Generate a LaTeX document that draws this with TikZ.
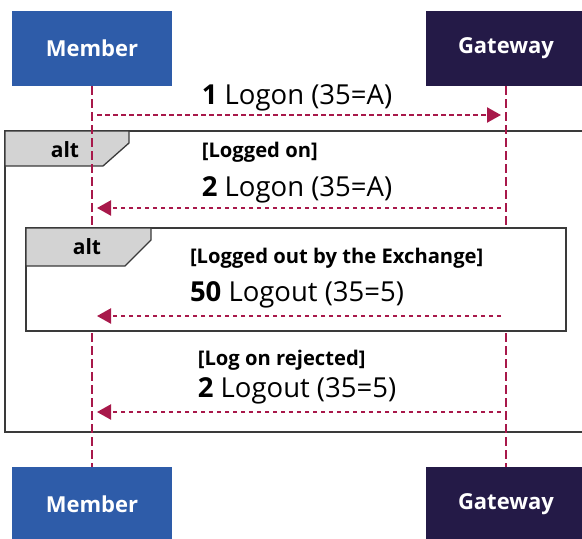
\documentclass[tikz,border=0pt]{standalone}
\usepackage{fontspec}
\setmainfont{Open Sans}
\usetikzlibrary{arrows.meta}
\definecolor{memberblue}{HTML}{2E5CA9}
\definecolor{gatenavy}{HTML}{241A47}
\definecolor{lifered}{HTML}{A8184A}
\definecolor{tabgray}{HTML}{D3D3D3}
\definecolor{framegray}{HTML}{3A3A3A}
\tikzset{
  participant/.style={rectangle, minimum width=160pt, minimum height=75pt, inner sep=0pt,
    text=white, font=\fontsize{22}{25}\selectfont\bfseries},
  lifeline/.style={draw=lifered, line width=2.3pt, dash pattern=on 9pt off 4pt},
  message/.style={draw=lifered, line width=2.3pt, dash pattern=on 4.5pt off 3.5pt,
    -{Triangle[length=14pt,width=15pt]}, shorten >=5pt, shorten <=5pt},
  frameline/.style={draw=framegray, line width=1.3pt},
  tab/.style={fill=tabgray, draw=framegray, line width=1.3pt},
  altlabel/.style={font=\fontsize{21}{24}\selectfont\bfseries, inner sep=0pt},
  guard/.style={font=\fontsize{20.2}{23}\selectfont\bfseries, inner sep=0pt, anchor=west},
  msglabel/.style={font=\fontsize{27.5}{30}\selectfont, inner sep=0pt}
}
\begin{document}
\begin{tikzpicture}[x=1pt,y=-1pt]
\useasboundingbox (0,0) rectangle (582,539);
% outer alt frame
\draw[frameline] (5,131) rectangle (592,432);
\draw[tab] (5,131) -- (129,131) -- (129,143) -- (103,166) -- (5,166) -- cycle;
\node[altlabel] (alt1) at (65,150) {alt};
% participants
\node[participant, fill=memberblue] (mtop) at (92,48.5) {Member};
\node[participant, fill=gatenavy] (gtop) at (506,48.5) {Gateway};
\node[participant, fill=memberblue] (mbot) at (92,504.5) {Member};
\node[participant, fill=gatenavy] (gbot) at (506,504.5) {Gateway};
% lifelines
\draw[lifeline] (mtop.south) -- (mbot.north);
\draw[lifeline] (gtop.south) -- (gbot.north);
% message coordinates
\coordinate (m1) at (92,115);  \coordinate (g1) at (506,115);
\coordinate (m2) at (92,208);  \coordinate (g2) at (506,208);
\coordinate (m3) at (92,316);  \coordinate (g3) at (506,316);
\coordinate (m4) at (92,412);  \coordinate (g4) at (506,412);
% message 1
\draw[message] (m1) -- (g1);
\node[msglabel] (l1) at (297,98) {\textbf{1} Logon (35=A)};
% guard logged on
\node[msglabel] (l2) at (297,190) {\textbf{2} Logon (35=A)};
\node[guard] (gd1) at (l2.west |- 0,152) {[Logged on]};
\draw[message] (g2) -- (m2);
% inner alt
\draw[frameline, fill=white] (26,228) rectangle (566,331);
\draw[tab] (26,228) -- (151,228) -- (151,240) -- (125,266) -- (26,266) -- cycle;
\node[altlabel] (alt2) at (87,247) {alt};
\node[msglabel] (l3) at (297,295) {\textbf{50} Logout (35=5)};
\node[guard] (gd2) at (l3.west |- 0,258) {[Logged out by the Exchange]};
\draw[message] (g3) -- (m3);
% log on rejected
\node[msglabel] (l4) at (297,391) {\textbf{2} Logout (35=5)};
\node[guard] (gd3) at (l4.west |- 0,360) {[Log on rejected]};
\draw[message] (g4) -- (m4);
\end{tikzpicture}
\end{document}
